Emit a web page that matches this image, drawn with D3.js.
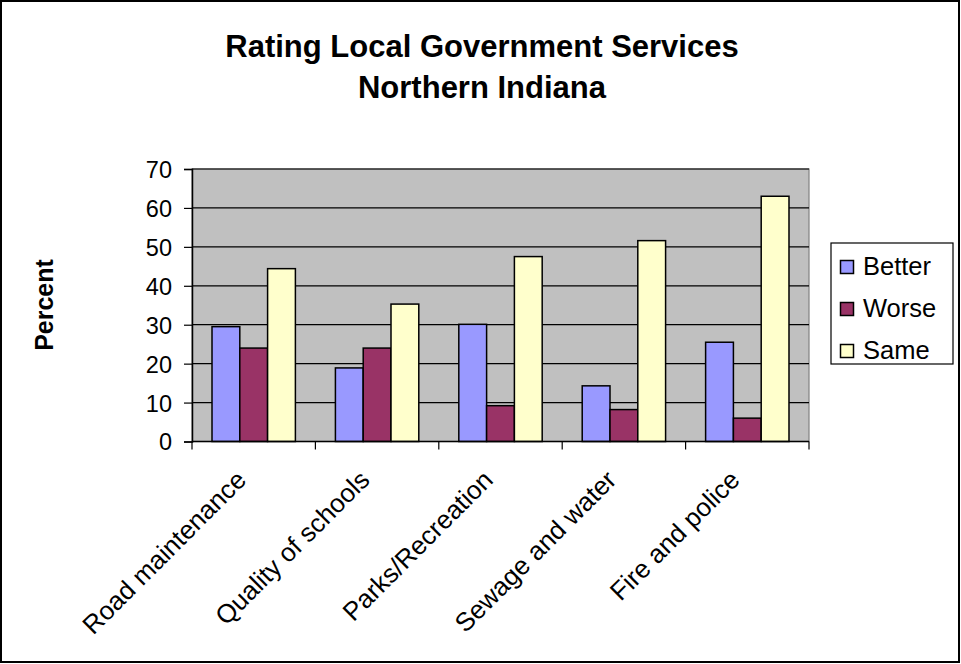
<!DOCTYPE html>
<html><head><meta charset="utf-8">
<script src="https://cdn.jsdelivr.net/npm/d3@7"></script>
<style>body{margin:0;background:#fff;} svg{display:block;font-family:"Liberation Sans",Arial,sans-serif;}</style>
</head><body>
<svg id="c" width="961" height="664"></svg>
<script>
const categories = ["Road maintenance","Quality of schools","Parks/Recreation","Sewage and water","Fire and police"];
const seriesNames = ["Better","Worse","Same"];
const better = [29.5, 18.9, 30.1, 14.3, 25.5];
const worse = [24.0, 24.0, 9.2, 8.2, 6.0];
const same = [44.4, 35.3, 47.5, 51.6, 63.0];
const yTicks = [0,10,20,30,40,50,60,70];
const colors = ["#9999FF","#993366","#FFFFCC"];
const values = [better, worse, same];

const svg = d3.select("#c");
svg.append("rect").attr("x",1).attr("y",1).attr("width",958).attr("height",661)
  .attr("fill","#fff").attr("stroke","#000").attr("stroke-width",2);

const L=192, R=809, T=169, B=441.5;
const x = d3.scaleBand().domain(categories).range([L,R]).paddingInner(0).paddingOuter(0);
const y = d3.scaleLinear().domain([0,70]).range([B,T]);
const inner = d3.scaleBand().domain(seriesNames).range([0, x.bandwidth()]).paddingInner(0).paddingOuter(0.72);

svg.append("rect").attr("x",L).attr("y",T).attr("width",R-L).attr("height",B-T)
  .attr("fill","#C0C0C0").attr("stroke","#808080").attr("stroke-width",1.2);

// gridlines
svg.append("g").selectAll("line").data(yTicks.filter(d=>d>0)).join("line")
  .attr("x1",L).attr("x2",R).attr("y1",d=>y(d)).attr("y2",d=>y(d))
  .attr("stroke","#000").attr("stroke-width",1.2);

// bars
const g = svg.append("g");
categories.forEach((c,i)=>{
  seriesNames.forEach((s,j)=>{
    const v = values[j][i];
    g.append("rect").attr("x",x(c)+inner(s)).attr("y",y(v))
      .attr("width",inner.bandwidth()).attr("height",B-y(v))
      .attr("fill",colors[j]).attr("stroke","#000").attr("stroke-width",1.5);
  });
});

// y axis
const ya = svg.append("g").attr("transform",`translate(${L},0)`)
  .call(d3.axisLeft(y).tickValues(yTicks).tickSize(8).tickPadding(12));
ya.select(".domain").attr("stroke","#000").attr("stroke-width",1.5);
ya.selectAll(".tick line").attr("stroke","#000").attr("stroke-width",1.2);
ya.selectAll("text").attr("font-size",23.5).attr("fill","#000").attr("font-family","Liberation Sans, Arial, sans-serif").attr("dy","0.36em");

// x axis
const xa = svg.append("g").attr("transform",`translate(0,${B})`);
xa.append("line").attr("x1",L).attr("x2",R).attr("stroke","#000").attr("stroke-width",1.5);
const bounds = categories.map(c=>x(c)).concat([R]);
xa.selectAll("line.tk").data(bounds).join("line").attr("class","tk")
  .attr("x1",d=>d).attr("x2",d=>d).attr("y1",0).attr("y2",8).attr("stroke","#000").attr("stroke-width",1.2);
xa.selectAll("text").data(categories).join("text")
  .attr("transform",d=>`translate(${x(d)+x.bandwidth()/2-6},${40}) rotate(-45)`)
  .attr("text-anchor","end").attr("font-size",26).attr("fill","#000")
  .text(d=>d);

// title
svg.append("text").attr("x",482).attr("y",57).attr("text-anchor","middle")
  .attr("font-size",31).attr("font-weight","bold").text("Rating Local Government Services");
svg.append("text").attr("x",482).attr("y",98).attr("text-anchor","middle")
  .attr("font-size",31).attr("font-weight","bold").text("Northern Indiana");

// y label
svg.append("text").attr("transform","translate(53,305) rotate(-90)").attr("text-anchor","middle")
  .attr("font-size",25).attr("font-weight","bold").text("Percent");

// legend
const lg = svg.append("g");
lg.append("rect").attr("x",831).attr("y",243).attr("width",122).attr("height",121)
  .attr("fill","#fff").attr("stroke","#000").attr("stroke-width",1.2);
seriesNames.forEach((s,j)=>{
  const cy = 267 + j*42;
  lg.append("rect").attr("x",840.5).attr("y",cy-6.5).attr("width",13).attr("height",13)
    .attr("fill",colors[j]).attr("stroke","#000").attr("stroke-width",1.5);
  lg.append("text").attr("x",863).attr("y",cy+8).attr("font-size",25.5).text(s);
});
</script>
</body></html>
